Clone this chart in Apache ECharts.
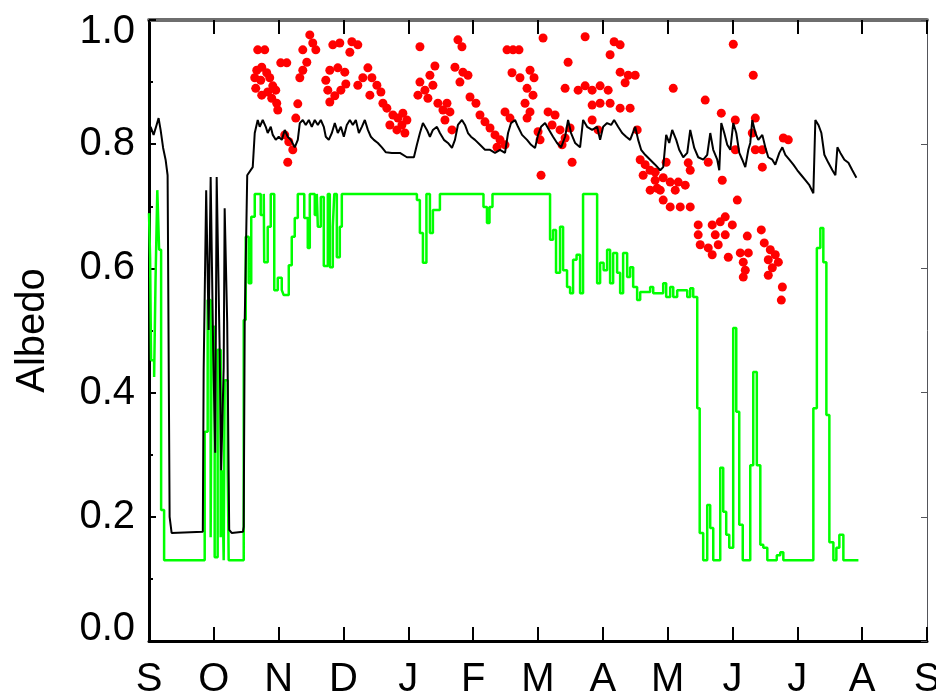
<!DOCTYPE html>
<html>
<head>
<meta charset="utf-8">
<script src="https://cdn.jsdelivr.net/npm/echarts@6/dist/echarts.min.js"></script>
<style>
  html, body { margin: 0; padding: 0; background: #fff; }
  #chart { width: 936px; height: 695px; }
</style>
</head>
<body>
<div id="chart"></div>
<script>
// Month initials for the hydrological year, September to September
const monthLabels = ['S', 'O', 'N', 'D', 'J', 'F', 'M', 'A', 'M', 'J', 'J', 'A', 'S'];

// Albedo axis range and tick spacing
const albedoMin = 0;
const albedoMax = 1;
const albedoStep = 0.2;

// Modelled surface albedo, [months since 1 Sept, albedo]; drawn as a step line (green)
const surfaceAlbedo = [
  [0, 0.689], [0.017, 0.617], [0.032, 0.452], [0.079, 0.425], [0.1, 0.576], [0.128, 0.726], [0.156, 0.63], [0.187, 0.211], [0.233, 0.13],
  [0.859, 0.337], [0.905, 0.549], [0.951, 0.167], [0.967, 0.506], [1.013, 0.135], [1.059, 0.469], [1.106, 0.167], [1.129, 0.275], [1.152, 0.13], [1.167, 0.42], [1.214, 0.275], [1.229, 0.13],
  [1.461, 0.517], [1.492, 0.651], [1.538, 0.576], [1.577, 0.683], [1.631, 0.72], [1.723, 0.686], [1.77, 0.72], [1.777, 0.61], [1.831, 0.667], [1.878, 0.72], [1.932, 0.565], [1.986, 0.585], [2.048, 0.565], [2.078, 0.557], [2.156, 0.605], [2.202, 0.651], [2.248, 0.681], [2.295, 0.72], [2.395, 0.681], [2.449, 0.633], [2.48, 0.72], [2.557, 0.686], [2.588, 0.72], [2.604, 0.667], [2.65, 0.715], [2.696, 0.604], [2.758, 0.72], [2.789, 0.602], [2.835, 0.667], [2.858, 0.72], [2.897, 0.618], [2.943, 0.667], [2.974, 0.72],
  [4.132, 0.71], [4.178, 0.657], [4.225, 0.609], [4.279, 0.72], [4.333, 0.657], [4.379, 0.694], [4.487, 0.72],
  [5.159, 0.699], [5.213, 0.673], [5.252, 0.699], [5.298, 0.72],
  [6.186, 0.646], [6.232, 0.662], [6.278, 0.593], [6.34, 0.667], [6.387, 0.597], [6.448, 0.57], [6.495, 0.56], [6.541, 0.614], [6.595, 0.622], [6.649, 0.56], [6.695, 0.72],
  [6.912, 0.576], [6.958, 0.609], [7.012, 0.597], [7.066, 0.63], [7.112, 0.576], [7.159, 0.625], [7.22, 0.593], [7.267, 0.56], [7.313, 0.625], [7.375, 0.586], [7.421, 0.602], [7.468, 0.57], [7.529, 0.549], [7.576, 0.562], [7.73, 0.57], [7.777, 0.56], [7.931, 0.576], [7.977, 0.554], [8.039, 0.57], [8.086, 0.554], [8.147, 0.565], [8.302, 0.554], [8.348, 0.568], [8.394, 0.554],
  [8.456, 0.375], [8.494, 0.174], [8.548, 0.13], [8.61, 0.219], [8.656, 0.182], [8.703, 0.13], [8.811, 0.279], [8.857, 0.208], [8.903, 0.171], [8.95, 0.15], [9.011, 0.504], [9.058, 0.369], [9.104, 0.187], [9.158, 0.13], [9.274, 0.283], [9.32, 0.433], [9.375, 0.283], [9.429, 0.155], [9.475, 0.15], [9.537, 0.13], [9.683, 0.138], [9.737, 0.143], [9.784, 0.13],
  [10.247, 0.375], [10.301, 0.633], [10.355, 0.665], [10.401, 0.61], [10.448, 0.364], [10.494, 0.159], [10.556, 0.13], [10.602, 0.15], [10.648, 0.171], [10.71, 0.13], [10.942, 0.13]
];

// Measured albedo from the station record (black line)
const stationAlbedo = [
  [0, 0.807], [0.025, 0.828], [0.071, 0.815], [0.117, 0.831], [0.148, 0.842], [0.179, 0.823], [0.218, 0.794], [0.256, 0.775], [0.287, 0.75], [0.318, 0.2], [0.349, 0.174],
  [0.83, 0.176], [0.843, 0.436], [0.882, 0.726], [0.92, 0.501], [0.951, 0.747], [0.99, 0.469], [1.021, 0.303], [1.044, 0.747], [1.09, 0.469], [1.113, 0.275], [1.152, 0.441], [1.167, 0.697], [1.206, 0.514], [1.237, 0.179], [1.275, 0.174],
  [1.45, 0.176], [1.461, 0.184], [1.476, 0.512], [1.515, 0.75], [1.6, 0.763], [1.631, 0.818], [1.677, 0.839],
  [1.708, 0.828], [1.754, 0.839], [1.801, 0.828], [1.831, 0.818], [1.878, 0.828], [1.909, 0.815], [1.955, 0.807], [2.001, 0.812], [2.048, 0.807], [2.094, 0.823], [2.14, 0.812], [2.187, 0.807], [2.248, 0.795], [2.295, 0.807], [2.326, 0.834], [2.372, 0.839], [2.418, 0.831], [2.465, 0.839], [2.511, 0.828], [2.557, 0.839], [2.604, 0.831], [2.65, 0.839], [2.696, 0.828], [2.727, 0.812], [2.773, 0.807], [2.82, 0.818], [2.866, 0.834], [2.912, 0.818], [2.959, 0.828], [3.005, 0.812], [3.051, 0.831], [3.098, 0.839], [3.144, 0.831], [3.19, 0.839], [3.237, 0.818], [3.283, 0.828], [3.329, 0.839], [3.376, 0.823], [3.422, 0.812], [3.468, 0.807], [3.53, 0.802], [3.592, 0.795], [3.654, 0.787], [3.746, 0.786], [3.87, 0.786], [3.978, 0.779], [4.086, 0.779],
  [4.132, 0.799], [4.179, 0.818], [4.225, 0.834], [4.287, 0.823], [4.333, 0.812], [4.379, 0.823], [4.441, 0.828], [4.487, 0.818], [4.549, 0.807], [4.611, 0.802], [4.673, 0.794], [4.719, 0.807], [4.765, 0.831], [4.827, 0.839], [4.874, 0.831], [4.92, 0.818], [4.966, 0.812], [5.028, 0.807], [5.105, 0.799], [5.182, 0.791], [5.26, 0.791], [5.337, 0.786], [5.414, 0.791], [5.491, 0.786],
  [5.538, 0.818], [5.584, 0.834], [5.646, 0.839], [5.692, 0.828], [5.754, 0.815], [5.831, 0.807], [5.893, 0.799], [5.954, 0.794], [6.001, 0.815], [6.047, 0.828], [6.109, 0.834], [6.171, 0.823], [6.232, 0.812], [6.294, 0.802], [6.356, 0.795], [6.418, 0.812], [6.464, 0.839], [6.51, 0.818], [6.572, 0.802], [6.649, 0.795], [6.696, 0.839], [6.757, 0.828], [6.835, 0.823], [6.912, 0.828], [6.958, 0.807], [7.005, 0.828], [7.066, 0.834], [7.128, 0.831], [7.174, 0.839], [7.236, 0.828], [7.298, 0.818], [7.36, 0.812], [7.421, 0.807], [7.499, 0.828], [7.545, 0.807],
  [7.591, 0.791], [7.653, 0.783], [7.73, 0.775], [7.807, 0.767], [7.885, 0.758], [7.931, 0.763], [7.977, 0.815], [8.024, 0.802], [8.07, 0.823], [8.132, 0.807], [8.178, 0.791], [8.24, 0.779], [8.302, 0.786], [8.348, 0.823], [8.41, 0.794], [8.471, 0.779], [8.549, 0.775], [8.61, 0.783], [8.657, 0.818], [8.703, 0.791], [8.765, 0.775], [8.796, 0.758], [8.827, 0.834], [8.873, 0.818], [8.919, 0.799], [8.966, 0.791], [9.012, 0.834], [9.058, 0.818], [9.105, 0.786], [9.151, 0.775], [9.197, 0.763], [9.244, 0.791], [9.274, 0.802], [9.305, 0.839], [9.352, 0.818], [9.398, 0.807], [9.46, 0.815], [9.506, 0.795], [9.552, 0.779], [9.614, 0.775], [9.66, 0.767], [9.722, 0.786], [9.769, 0.795], [9.815, 0.783], [9.877, 0.775], [9.939, 0.767],
  [10.0, 0.758], [10.062, 0.75], [10.124, 0.742], [10.186, 0.734], [10.247, 0.721], [10.278, 0.839], [10.325, 0.831], [10.371, 0.818], [10.417, 0.783], [10.479, 0.77], [10.541, 0.758], [10.587, 0.75], [10.618, 0.795], [10.664, 0.786], [10.726, 0.775], [10.788, 0.77], [10.848, 0.758], [10.911, 0.746]
];

// Individual snow albedo observations (red points)
const snowObservations = [
  [1.677, 0.952], [1.785, 0.952], [2.032, 0.931], [2.125, 0.931], [1.662, 0.919], [1.739, 0.924], [1.816, 0.915], [1.631, 0.907], [1.723, 0.903], [1.862, 0.907],
  [1.909, 0.894], [1.831, 0.884], [1.955, 0.887], [1.646, 0.890], [1.739, 0.879], [1.893, 0.874], [1.970, 0.866], [1.986, 0.855], [2.295, 0.865], [2.264, 0.842],
  [2.094, 0.815], [2.156, 0.804], [2.218, 0.791], [2.140, 0.771], [2.372, 0.952], [2.480, 0.976], [2.526, 0.963], [2.573, 0.952], [2.434, 0.932], [2.372, 0.919],
  [2.326, 0.907], [2.835, 0.960], [2.943, 0.963], [3.129, 0.965], [3.221, 0.960], [3.098, 0.948], [2.789, 0.919], [2.912, 0.923], [3.020, 0.916], [2.727, 0.903],
  [3.036, 0.897], [2.758, 0.887], [2.959, 0.887], [2.866, 0.878], [2.789, 0.868], [3.376, 0.923], [3.298, 0.907], [3.438, 0.907], [3.221, 0.895], [3.515, 0.895],
  [3.577, 0.884], [3.407, 0.879], [3.608, 0.866], [3.669, 0.858], [3.762, 0.847], [3.839, 0.842], [3.715, 0.831], [3.901, 0.831], [3.824, 0.823], [3.978, 0.839],
  [3.947, 0.818], [3.916, 0.850], [4.179, 0.957], [4.410, 0.926], [4.333, 0.911], [4.179, 0.900], [4.379, 0.895], [4.256, 0.887], [4.148, 0.879], [4.302, 0.874],
  [4.456, 0.866], [4.596, 0.866], [4.534, 0.855], [4.642, 0.852], [4.565, 0.839], [4.673, 0.823], [4.765, 0.968], [4.827, 0.957], [4.719, 0.924], [4.842, 0.916],
  [4.920, 0.911], [4.796, 0.900], [4.951, 0.876], [5.043, 0.866], [5.105, 0.847], [5.182, 0.836], [5.260, 0.826], [5.337, 0.815], [5.414, 0.807], [5.491, 0.799],
  [5.368, 0.795], [5.491, 0.852], [5.568, 0.842], [5.522, 0.952], [5.615, 0.952], [5.707, 0.952], [5.599, 0.915], [5.722, 0.907], [5.877, 0.919], [5.939, 0.907],
  [5.831, 0.890], [5.923, 0.879], [5.800, 0.866], [5.877, 0.852], [5.831, 0.842], [6.001, 0.820], [6.032, 0.807], [6.047, 0.750], [6.078, 0.971], [6.155, 0.852],
  [6.263, 0.847], [6.217, 0.831], [6.340, 0.823], [6.418, 0.810], [6.495, 0.826], [6.371, 0.799], [6.464, 0.932], [6.418, 0.890], [6.619, 0.887], [6.727, 0.894],
  [6.835, 0.887], [6.958, 0.894], [7.082, 0.887], [6.526, 0.771], [6.727, 0.973], [7.174, 0.965], [7.267, 0.960], [7.112, 0.944], [6.835, 0.863], [6.958, 0.866],
  [7.112, 0.866], [7.267, 0.858], [7.421, 0.858], [6.835, 0.839], [6.927, 0.823], [7.267, 0.916], [7.391, 0.911], [7.499, 0.911], [7.344, 0.899], [7.530, 0.823],
  [7.576, 0.775], [7.653, 0.767], [7.730, 0.758], [7.622, 0.750], [7.807, 0.742], [7.730, 0.726], [7.838, 0.729], [9.012, 0.961], [9.320, 0.911], [8.086, 0.890],
  [8.579, 0.871], [8.827, 0.850], [9.043, 0.839], [9.305, 0.818], [9.352, 0.842], [9.784, 0.810], [9.861, 0.807], [7.977, 0.771], [7.807, 0.755], [7.931, 0.746],
  [8.039, 0.739], [8.163, 0.739], [8.271, 0.734], [7.885, 0.726], [8.117, 0.726], [8.317, 0.770], [8.348, 0.758], [7.931, 0.710], [8.039, 0.699], [8.194, 0.699],
  [8.348, 0.699], [8.626, 0.771], [8.842, 0.742], [9.043, 0.791], [9.352, 0.791], [9.460, 0.791], [9.460, 0.763], [9.074, 0.710], [8.471, 0.670], [8.471, 0.654],
  [8.687, 0.670], [8.811, 0.675], [8.734, 0.654], [8.888, 0.654], [8.780, 0.638], [8.888, 0.683], [8.997, 0.670], [8.502, 0.638], [8.626, 0.633], [8.687, 0.622],
  [8.935, 0.618], [9.120, 0.625], [9.244, 0.625], [9.166, 0.610], [9.197, 0.597], [9.166, 0.586], [9.228, 0.652], [9.444, 0.662], [9.490, 0.641], [9.583, 0.630],
  [9.660, 0.622], [9.552, 0.614], [9.707, 0.610], [9.614, 0.601], [9.552, 0.589], [9.769, 0.570], [9.753, 0.549]
];

const FONT = '"Liberation Sans", Arial, Helvetica, sans-serif';
const chart = echarts.init(document.getElementById('chart'));

chart.setOption({
  animation: false,
  grid: { left: 149, right: 9, top: 20, bottom: 54, outerBoundsMode: 'none' },
  xAxis: [
    {
      type: 'value',
      position: 'bottom',
      min: 0,
      max: monthLabels.length - 1,
      interval: 1,
      splitLine: { show: false },
      axisTick: { show: true, inside: true, length: 14, lineStyle: { color: '#000', width: 2 } },
      axisLine: { show: true, onZero: false, lineStyle: { color: '#000', width: 3 } },
      axisLabel: {
        margin: 19,
        fontFamily: FONT,
        fontSize: 40,
        color: '#000',
        formatter: function (v) { return monthLabels[Math.round(v)] || ''; }
      }
    },
    {
      type: 'value',
      position: 'top',
      min: 0,
      max: monthLabels.length - 1,
      interval: 1,
      splitLine: { show: false },
      axisTick: { show: true, inside: true, length: 14, lineStyle: { color: '#000', width: 2 } },
      axisLine: { show: true, onZero: false, lineStyle: { color: '#6e6e6e', width: 4 } },
      axisLabel: { show: false }
    }
  ],
  yAxis: [
    {
      type: 'value',
      position: 'left',
      min: albedoMin,
      max: albedoMax,
      interval: albedoStep,
      splitLine: { show: false },
      name: 'Albedo',
      nameLocation: 'middle',
      nameGap: 96,
      nameTextStyle: { fontFamily: FONT, fontSize: 40, color: '#000' },
      axisLine: { show: true, onZero: false, lineStyle: { color: '#000', width: 3 } },
      axisTick: { show: true, inside: true, length: 7, lineStyle: { color: '#000', width: 2 } },
      minorTick: { show: true, splitNumber: 2, length: 4, lineStyle: { color: '#000', width: 2 } },
      axisLabel: {
        margin: 14,
        fontFamily: FONT,
        fontSize: 40,
        color: '#000',
        formatter: function (v) {
          const t = v.toFixed(1);
          if (v >= albedoMax - 1e-6) return '{hi|' + t + '}';
          if (v <= albedoMin + 1e-6) return '{lo|' + t + '}';
          return t;
        },
        rich: {
          hi: { fontFamily: FONT, fontSize: 40, color: '#000', padding: [24, 0, 0, 0] },
          lo: { fontFamily: FONT, fontSize: 40, color: '#000', padding: [0, 0, 24, 0] }
        }
      }
    },
    {
      type: 'value',
      position: 'right',
      min: albedoMin,
      max: albedoMax,
      interval: albedoStep,
      splitLine: { show: false },
      axisLine: { show: true, onZero: false },
      axisTick: { show: true, inside: true, length: 6 },
      axisLabel: { show: false }
    }
  ],
  series: [
    {
      name: 'surface',
      type: 'line',
      step: 'end',
      data: surfaceAlbedo,
      showSymbol: false,
      symbol: 'none',
      lineStyle: { color: '#00ff00', width: 2.5 }
    },
    {
      name: 'station',
      type: 'line',
      data: stationAlbedo,
      showSymbol: false,
      symbol: 'none',
      lineStyle: { color: '#000', width: 2 }
    },
    {
      name: 'snow',
      type: 'scatter',
      data: snowObservations,
      symbol: 'circle',
      symbolSize: 9,
      itemStyle: { color: '#ff0000', opacity: 1 }
    }
  ]
});
</script>
</body>
</html>
